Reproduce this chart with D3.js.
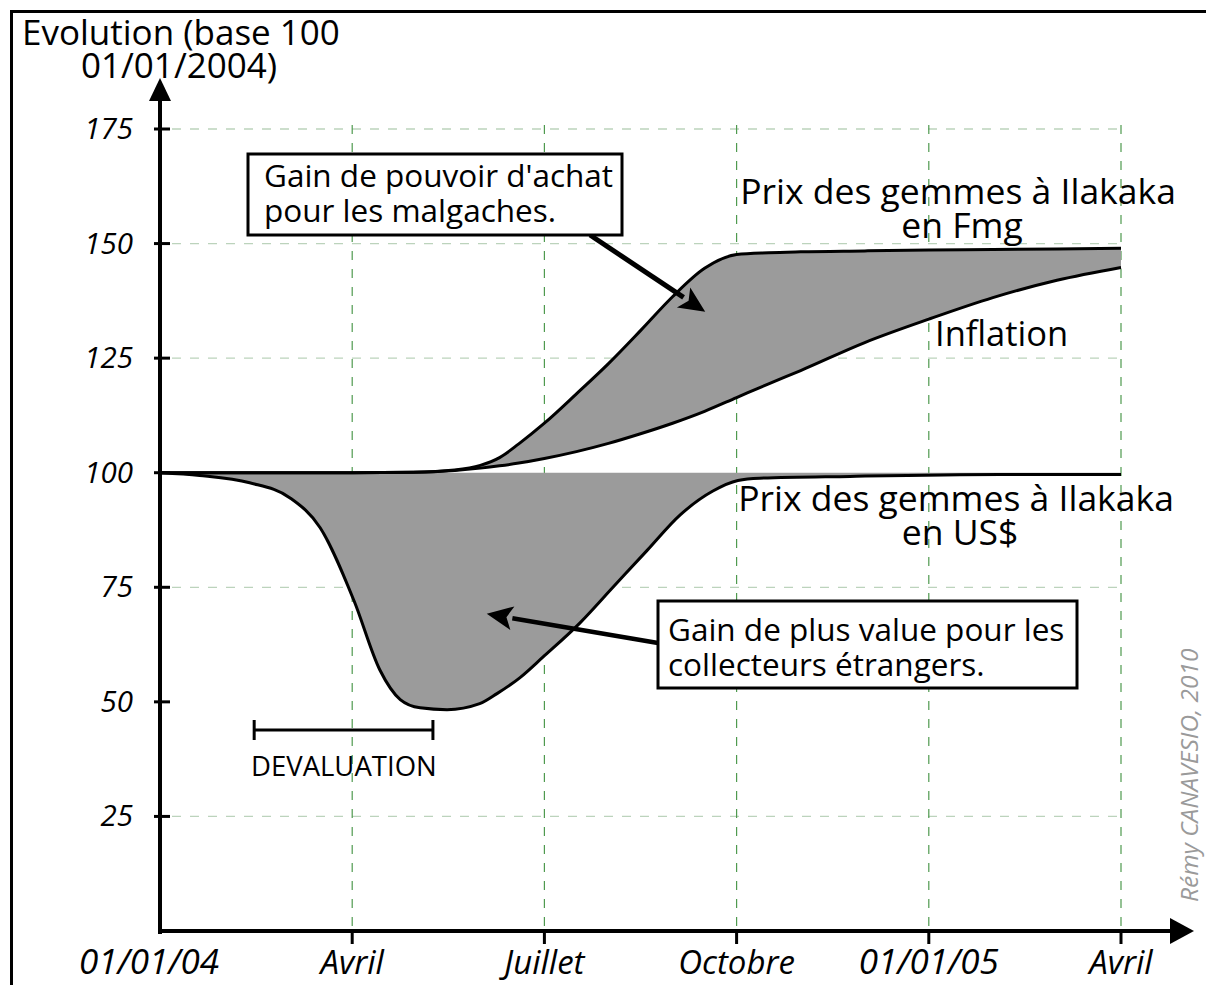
<!DOCTYPE html>
<html>
<head>
<meta charset="utf-8">
<script src="https://cdn.jsdelivr.net/npm/d3@7"></script>
<style>
  body { margin: 0; background: #fff; }
  svg { display: block; }
  text { font-family: "Open Sans", "Noto Sans", sans-serif; fill: #000; }
</style>
</head>
<body>
<svg id="chart" width="1206" height="985"></svg>
<script>
// Time axis: months elapsed since 01/01/2004
const tickMonths = [0, 3, 6, 9, 12, 15];
const tickLabels = ["01/01/04", "Avril", "Juillet", "Octobre", "01/01/05", "Avril"];
const bigTick = [true, false, false, false, true, false];

// Value axis (base 100 on 01/01/2004)
const yTicks = [25, 50, 75, 100, 125, 150, 175];
const yGridValues = [25, 75, 125, 150, 175];

// Gem prices in Fmg and inflation, sampled on the same months
const months = [0, 1, 2, 3, 3.95, 4.6, 5, 5.3, 5.6, 6, 6.5, 7, 7.5, 8, 8.5, 9, 9.5, 10, 11, 12, 13, 14, 15];
const fmgPrice = [100, 100, 100, 100, 100.1, 100.6, 101.6, 103.3, 106.3, 110.8, 117.2, 123.8, 131, 138.4, 144.6, 147.6, 148, 148.2, 148.4, 148.6, 148.7, 148.8, 149];
const inflation = [100, 100, 100, 100, 100.1, 100.5, 101, 101.5, 102.1, 103.1, 104.6, 106.4, 108.5, 110.8, 113.4, 116.4, 119.4, 122.3, 128.4, 133.5, 138.2, 142, 144.8];

// Gem prices in US$
const usdMonths = [0, 0.62, 1.4, 2.03, 2.5, 3.03, 3.43, 3.75, 4.06, 4.48, 4.99, 5.26, 5.62, 5.98, 6.56, 7.07, 7.6, 8.12, 8.63, 9.02, 9.36, 10.77, 13.11, 15];
const usdPrice = [100, 99.4, 97.8, 94.5, 88, 72, 57, 50.5, 48.7, 48.3, 49.6, 51.8, 55.3, 59.8, 67.3, 75, 83, 90.8, 96, 98.3, 98.8, 99.2, 99.6, 99.6];

// Devaluation period (months)
const devaluation = [1.47, 4.26];

const svg = d3.select("#chart");

const x = d3.scaleLinear().domain([0, 15]).range([160, 1121]);
const y = d3.scaleLinear().domain([0, 175]).range([931, 129]);

// outer frame
svg.append("rect")
  .attr("x", 11.5).attr("y", 11.5)
  .attr("width", 1300).attr("height", 1100)
  .attr("fill", "none").attr("stroke", "#000").attr("stroke-width", 3);

// grid
svg.append("g").selectAll("line").data(yGridValues).join("line")
  .attr("x1", 172).attr("x2", x(15))
  .attr("y1", d => y(d)).attr("y2", d => y(d))
  .attr("stroke", "#bcd3bc").attr("stroke-width", 1.3)
  .attr("stroke-dasharray", "9,9");

svg.append("g").selectAll("line").data(tickMonths.slice(1)).join("line")
  .attr("x1", d => x(d)).attr("x2", d => x(d))
  .attr("y1", y(175) - 4).attr("y2", y(0))
  .attr("stroke", "#4f9a4f").attr("stroke-width", 1.2)
  .attr("stroke-dasharray", "9,9");

// shaded gaps
const fmgPts = months.map((m, i) => [m, fmgPrice[i], inflation[i]]);
const usdPts = usdMonths.map((m, i) => [m, usdPrice[i]]);

svg.append("path")
  .datum(fmgPts)
  .attr("fill", "#9b9b9b")
  .attr("d", d3.area().curve(d3.curveMonotoneX)
    .x(d => x(d[0])).y0(d => y(d[2])).y1(d => y(d[1])));

svg.append("path")
  .datum(usdPts)
  .attr("fill", "#9b9b9b")
  .attr("d", d3.area().curve(d3.curveMonotoneX)
    .x(d => x(d[0])).y0(y(100)).y1(d => y(d[1])));

// curves
const lineGen = d3.line().curve(d3.curveMonotoneX);
const curveStyle = sel => sel.attr("fill", "none").attr("stroke", "#000")
  .attr("stroke-width", 3).attr("stroke-linejoin", "round");

svg.append("path").call(curveStyle)
  .attr("d", lineGen(months.map((m, i) => [x(m), y(inflation[i])])));
svg.append("path").call(curveStyle)
  .attr("d", lineGen(months.map((m, i) => [x(m), y(fmgPrice[i])])));
svg.append("path").call(curveStyle)
  .attr("d", lineGen(usdMonths.map((m, i) => [x(m), y(usdPrice[i])])));

// axes
const axisG = svg.append("g");
axisG.append("line")
  .attr("x1", x(0)).attr("x2", x(0)).attr("y1", y(0) + 3).attr("y2", 96)
  .attr("stroke", "#000").attr("stroke-width", 4);
axisG.append("path")
  .attr("d", `M${x(0)},78 L${x(0) - 11},101 L${x(0) + 11},101 Z`).attr("fill", "#000");
axisG.append("line")
  .attr("x1", x(0) - 2).attr("x2", 1175).attr("y1", y(0)).attr("y2", y(0))
  .attr("stroke", "#000").attr("stroke-width", 4);
axisG.append("path")
  .attr("d", `M1194,${y(0)} L1170,${y(0) - 13} L1170,${y(0) + 13} Z`).attr("fill", "#000");

// y ticks and labels
axisG.selectAll(".yt").data(yTicks).join("line").attr("class", "yt")
  .attr("x1", x(0) - 6).attr("x2", x(0) + 10)
  .attr("y1", d => y(d)).attr("y2", d => y(d))
  .attr("stroke", "#000").attr("stroke-width", 3);
axisG.selectAll(".yl").data(yTicks).join("text").attr("class", "yl")
  .attr("x", 133).attr("y", d => y(d) + 10)
  .attr("text-anchor", "end")
  .attr("font-size", 29.5).attr("font-style", "italic")
  .text(d => d);

// x ticks and labels
axisG.selectAll(".xt").data(tickMonths.slice(1)).join("line").attr("class", "xt")
  .attr("x1", d => x(d)).attr("x2", d => x(d))
  .attr("y1", y(0)).attr("y2", y(0) + 13)
  .attr("stroke", "#000").attr("stroke-width", 3);
axisG.selectAll(".xl").data(tickMonths).join("text").attr("class", "xl")
  .attr("x", (d, i) => x(d) + (i === 0 ? -11 : 0)).attr("y", 974)
  .attr("text-anchor", "middle")
  .attr("font-size", (d, i) => bigTick[i] ? 35 : 33)
  .attr("font-style", "italic")
  .text((d, i) => tickLabels[i]);

// axis title
const title = svg.append("text").attr("font-size", 35);
title.append("tspan").attr("x", 22).attr("y", 45).text("Evolution (base 100");
title.append("tspan").attr("x", 81).attr("y", 78).text("01/01/2004)");

// series labels
const label = (lines, xs, ys, size, anchor) => {
  const t = svg.append("text").attr("font-size", size).attr("text-anchor", anchor || "start");
  lines.forEach((s, i) => t.append("tspan").attr("x", xs[i]).attr("y", ys[i]).text(s));
};
label(["Prix des gemmes à Ilakaka", "en Fmg"], [958, 962], [204, 238], 35.5, "middle");
label(["Inflation"], [935], [346], 34.5);
label(["Prix des gemmes à Ilakaka", "en US$"], [956, 960], [511, 545], 35.5, "middle");

// annotation boxes with arrows
const arrow = (x1, y1, x2, y2, w) => {
  const ang = Math.atan2(y2 - y1, x2 - x1);
  const hl = 26, hw = 12;
  const bx = x2 - hl * Math.cos(ang), by = y2 - hl * Math.sin(ang);
  svg.append("line").attr("x1", x1).attr("y1", y1).attr("x2", bx).attr("y2", by)
    .attr("stroke", "#000").attr("stroke-width", w);
  const px = -Math.sin(ang) * hw, py = Math.cos(ang) * hw;
  svg.append("path")
    .attr("d", `M${x2},${y2} L${bx + px},${by + py} L${bx + 6 * Math.cos(ang)},${by + 6 * Math.sin(ang)} L${bx - px},${by - py} Z`)
    .attr("fill", "#000");
};

arrow(590, 235, x(8.51), y(135.1), 5);
svg.append("rect").attr("x", 248).attr("y", 154).attr("width", 374).attr("height", 81)
  .attr("fill", "#fff").attr("stroke", "#000").attr("stroke-width", 3);
label(["Gain de pouvoir d'achat", "pour les malgaches."], [264, 264], [187, 222], 31.5);

arrow(658, 643, x(5.1), y(69.2), 4.5);
svg.append("rect").attr("x", 658).attr("y", 601).attr("width", 419).attr("height", 87)
  .attr("fill", "#fff").attr("stroke", "#000").attr("stroke-width", 3);
label(["Gain de plus value pour les", "collecteurs étrangers."], [668, 668], [641, 676], 31.5);

// devaluation bracket
const devY = 730;
svg.append("line").attr("x1", x(devaluation[0])).attr("x2", x(devaluation[1]))
  .attr("y1", devY).attr("y2", devY).attr("stroke", "#000").attr("stroke-width", 3);
svg.selectAll(".cap").data(devaluation).join("line").attr("class", "cap")
  .attr("x1", d => x(d)).attr("x2", d => x(d))
  .attr("y1", devY - 10).attr("y2", devY + 10)
  .attr("stroke", "#000").attr("stroke-width", 3);
label(["DEVALUATION"], [251], [776], 27.5);

// credit
svg.append("text")
  .attr("transform", "translate(1198,902) rotate(-90)")
  .attr("font-size", 24.5).attr("font-style", "italic")
  .style("fill", "#9a9a9a")
  .text("Rémy CANAVESIO, 2010");
</script>
</body>
</html>
